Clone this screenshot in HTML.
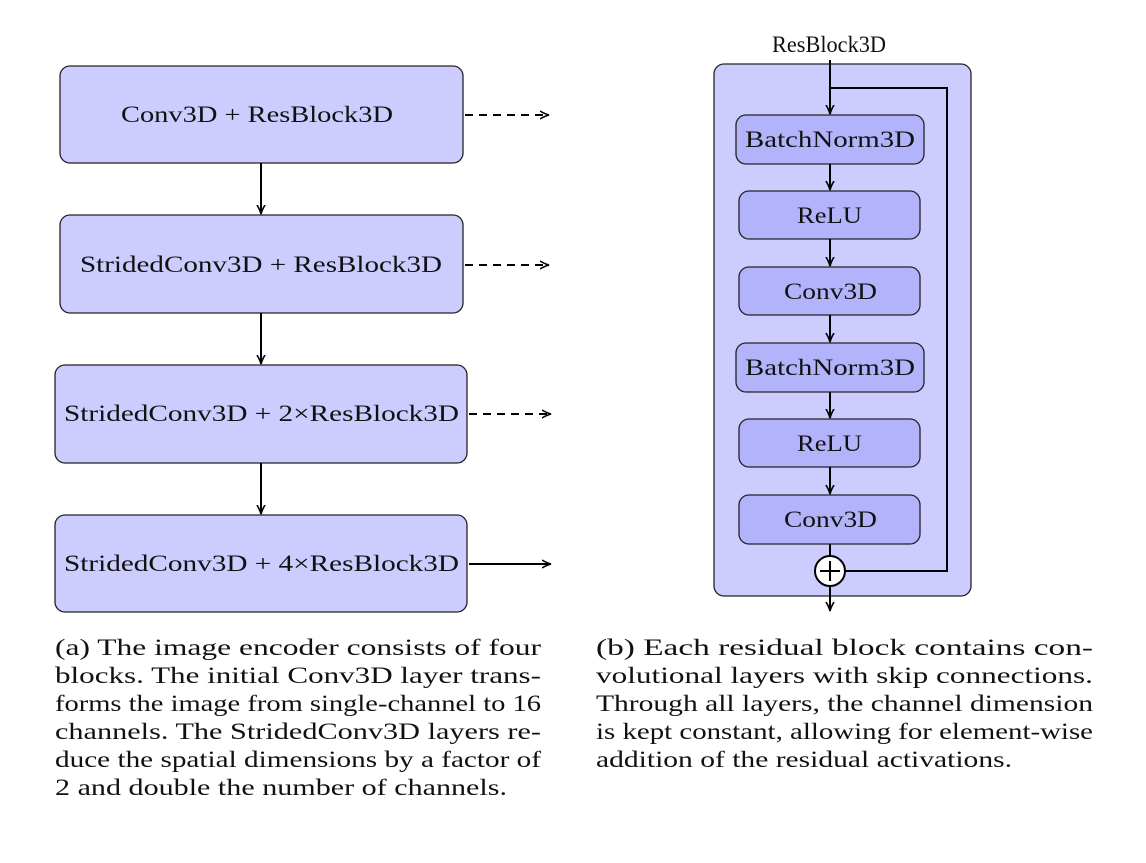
<!DOCTYPE html>
<html><head><meta charset="utf-8"><style>
html,body{margin:0;padding:0;background:#fff;}
svg text{font-family:"Liberation Serif",serif;fill:#111;}
</style></head><body>
<svg width="1146" height="858" viewBox="0 0 1146 858" xmlns="http://www.w3.org/2000/svg">
<defs>
<marker id="ah" markerWidth="10" markerHeight="10" refX="8" refY="5" orient="auto" markerUnits="userSpaceOnUse">
<path d="M0,1 Q5,4 9,5 Q5,6 0,9" fill="none" stroke="#000" stroke-width="1.6"/>
</marker>
</defs>
<g stroke="#222" stroke-width="1.3" fill="#ccccff">
<rect x="60" y="66" width="403" height="97" rx="10"/>
<rect x="60" y="215" width="403" height="98" rx="10"/>
<rect x="55" y="365" width="412" height="98" rx="10"/>
<rect x="55" y="515" width="412" height="97" rx="10"/>
</g>
<g font-size="23" lengthAdjust="spacingAndGlyphs">
<text x="121" y="122" textLength="272" lengthAdjust="spacingAndGlyphs">Conv3D + ResBlock3D</text>
<text x="80" y="272" textLength="362" lengthAdjust="spacingAndGlyphs">StridedConv3D + ResBlock3D</text>
<text x="64" y="421" textLength="395" lengthAdjust="spacingAndGlyphs">StridedConv3D + 2×ResBlock3D</text>
<text x="64" y="571" textLength="395" lengthAdjust="spacingAndGlyphs">StridedConv3D + 4×ResBlock3D</text>
</g>
<g stroke="#000" stroke-width="2" fill="none">
<line x1="261" y1="163" x2="261" y2="213" marker-end="url(#ah)"/>
<line x1="261" y1="313" x2="261" y2="363" marker-end="url(#ah)"/>
<line x1="261" y1="463" x2="261" y2="513" marker-end="url(#ah)"/>
<line x1="465" y1="115" x2="548" y2="115" stroke-dasharray="8,6" marker-end="url(#ah)"/>
<line x1="465" y1="265" x2="548" y2="265" stroke-dasharray="8,6" marker-end="url(#ah)"/>
<line x1="469" y1="414" x2="550" y2="414" stroke-dasharray="8,6" marker-end="url(#ah)"/>
<line x1="469" y1="564" x2="550" y2="564" marker-end="url(#ah)"/>
</g>
<text x="772" y="52" font-size="23" textLength="114" lengthAdjust="spacingAndGlyphs">ResBlock3D</text>
<rect x="714" y="64" width="257" height="532" rx="10" fill="#ccccff" stroke="#222" stroke-width="1.3"/>
<g stroke="#222" stroke-width="1.3" fill="#b3b3fb">
<rect x="736" y="115" width="188" height="49" rx="10"/>
<rect x="739" y="191" width="181" height="48" rx="10"/>
<rect x="739" y="267" width="181" height="48" rx="10"/>
<rect x="736" y="343" width="188" height="49" rx="10"/>
<rect x="739" y="419" width="181" height="48" rx="10"/>
<rect x="739" y="495" width="181" height="49" rx="10"/>
</g>
<g font-size="23">
<text x="745" y="147" textLength="170" lengthAdjust="spacingAndGlyphs">BatchNorm3D</text>
<text x="797" y="223" textLength="65" lengthAdjust="spacingAndGlyphs">ReLU</text>
<text x="784" y="299" textLength="93" lengthAdjust="spacingAndGlyphs">Conv3D</text>
<text x="745" y="375" textLength="170" lengthAdjust="spacingAndGlyphs">BatchNorm3D</text>
<text x="797" y="451" textLength="65" lengthAdjust="spacingAndGlyphs">ReLU</text>
<text x="784" y="527" textLength="93" lengthAdjust="spacingAndGlyphs">Conv3D</text>
</g>
<g stroke="#000" stroke-width="2" fill="none">
<line x1="830" y1="60" x2="830" y2="113" marker-end="url(#ah)"/>
<polyline points="830,88 947,88 947,571 845,571"/>
<line x1="830" y1="164" x2="830" y2="189" marker-end="url(#ah)"/>
<line x1="830" y1="239" x2="830" y2="265" marker-end="url(#ah)"/>
<line x1="830" y1="315" x2="830" y2="341" marker-end="url(#ah)"/>
<line x1="830" y1="392" x2="830" y2="417" marker-end="url(#ah)"/>
<line x1="830" y1="467" x2="830" y2="493" marker-end="url(#ah)"/>
<line x1="830" y1="544" x2="830" y2="556"/>
<line x1="830" y1="586" x2="830" y2="610" marker-end="url(#ah)"/>
<circle cx="830" cy="571" r="15" fill="#fff"/>
<line x1="820" y1="571" x2="840" y2="571"/>
<line x1="830" y1="561" x2="830" y2="581"/>
</g>
<g font-size="23">
<text x="55" y="655" textLength="486" lengthAdjust="spacingAndGlyphs">(a) The image encoder consists of four</text>
<text x="55" y="683" textLength="486" lengthAdjust="spacingAndGlyphs">blocks. The initial Conv3D layer trans-</text>
<text x="55" y="711" textLength="486" lengthAdjust="spacingAndGlyphs">forms the image from single-channel to 16</text>
<text x="55" y="739" textLength="486" lengthAdjust="spacingAndGlyphs">channels. The StridedConv3D layers re-</text>
<text x="55" y="767" textLength="486" lengthAdjust="spacingAndGlyphs">duce the spatial dimensions by a factor of</text>
<text x="55" y="795" textLength="452" lengthAdjust="spacingAndGlyphs">2 and double the number of channels.</text>
<text x="596" y="655" textLength="497" lengthAdjust="spacingAndGlyphs">(b) Each residual block contains con-</text>
<text x="596" y="683" textLength="497" lengthAdjust="spacingAndGlyphs">volutional layers with skip connections.</text>
<text x="596" y="711" textLength="497" lengthAdjust="spacingAndGlyphs">Through all layers, the channel dimension</text>
<text x="596" y="739" textLength="497" lengthAdjust="spacingAndGlyphs">is kept constant, allowing for element-wise</text>
<text x="596" y="767" textLength="416" lengthAdjust="spacingAndGlyphs">addition of the residual activations.</text>
</g>
</svg>
</body></html>
